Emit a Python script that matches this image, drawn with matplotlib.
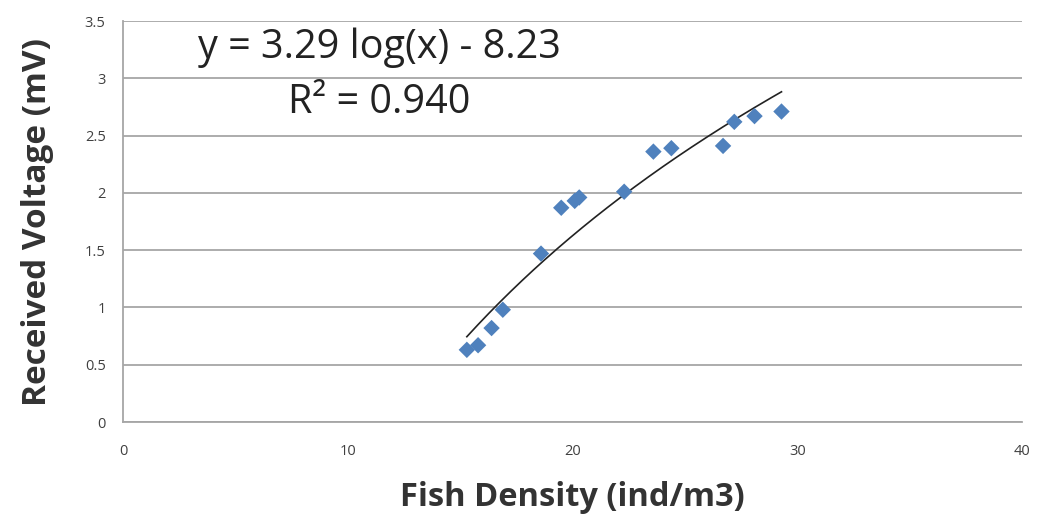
import numpy as np
import matplotlib
matplotlib.use("Agg")
import matplotlib.pyplot as plt

# data (fish density vs received voltage)
density = [15.3, 15.8, 16.4, 16.9, 18.6, 19.5, 20.1, 20.3, 22.3,
           23.6, 24.4, 26.7, 27.2, 28.1, 29.3]
voltage = [0.63, 0.67, 0.82, 0.98, 1.47, 1.87, 1.93, 1.96, 2.01,
           2.36, 2.39, 2.41, 2.62, 2.67, 2.71]

# log trendline coefficients as printed on the chart
fit_a = 3.29
fit_b = -8.23
r2_text = "0.940"

xticks = [0, 10, 20, 30, 40]
yticks = [0, 0.5, 1, 1.5, 2, 2.5, 3, 3.5]

plt.rcParams['font.family'] = ['Open Sans', 'DejaVu Sans']

fig = plt.figure(figsize=(10.37, 5.23), dpi=100)
ax = fig.add_axes([0.1186, 0.1931, 0.8669, 0.7667])

ax.set_xlim(0, 40)
ax.set_ylim(0, 3.5)
ax.set_xticks(xticks)
ax.set_yticks(yticks)
ax.set_yticklabels([f"{v:g}" for v in yticks])
ax.grid(axis='y', color='#a6a6a6', lw=1.3)
ax.set_axisbelow(True)
for s in ['top', 'right']:
    ax.spines[s].set_visible(False)
for s in ['left', 'bottom']:
    ax.spines[s].set_color('#a6a6a6')
    ax.spines[s].set_linewidth(1.3)
ax.tick_params(length=0, labelsize=10.5, colors='#404040')
ax.tick_params(axis='x', pad=16)
ax.tick_params(axis='y', pad=12.5)

# trendline over the data range
xs = np.linspace(min(density), max(density), 200)
ax.plot(xs, fit_a * np.log(xs) + fit_b, color='#222222', lw=1.2, zorder=2)

ax.scatter(density, voltage, marker='D', s=70, color='#4f81bd',
           edgecolors='none', zorder=3)

ax.text(11.39, 3.177, f"y = {fit_a:.2f} log(x) - {abs(fit_b):.2f}",
        fontsize=28.5, ha='center', va='baseline', color='#222222')
ax.text(11.42, 2.697, f"R\u00b2 = {r2_text}",
        fontsize=28.5, ha='center', va='baseline', color='#222222')

ax.set_xlabel("Fish Density (ind/m3)", fontsize=23.5, fontweight='bold',
              color='#333333', labelpad=16)
ax.set_ylabel("Received Voltage (mV)", fontsize=24, fontweight='bold',
              color='#333333', labelpad=22)

fig.savefig("out.png", dpi=100)
